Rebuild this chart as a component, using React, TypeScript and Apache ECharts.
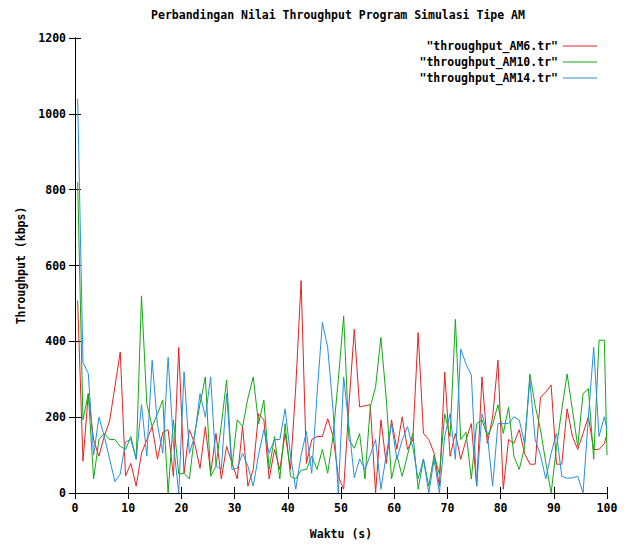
import React, { useEffect, useRef } from "react";
import * as echarts from "echarts";

// sample times (s): 0.5, 1.5, ... 99.5 and a final sample at 100
const times: number[] = [...Array.from({ length: 100 }, (_, i) => i + 0.5), 100];

const seriesNames = ['"throughput_AM6.tr"', '"throughput_AM10.tr"', '"throughput_AM14.tr"'];

const am6 = [
  507, 84, 262, 140, 97, 150, 190, 280, 372, 45,
  78, 18, 105, 140, 175, 89, 160, 167, 44, 384,
  52, 167, 131, 65, 175, 52, 157, 37, 123, 80,
  37, 175, 18, 62, 209, 193, 37, 115, 62, 157,
  62, 280, 560, 78, 141, 149, 149, 196, 150, 44,
  10, 233, 432, 227, 230, 233, 0, 193, 78, 193,
  115, 201, 115, 140, 423, 157, 141, 105, 18, 319,
  97, 157, 89, 140, 183, 18, 306, 131, 200, 350,
  10, 141, 131, 167, 105, 76, 76, 253, 266, 285,
  76, 76, 222, 149, 115, 157, 201, 115, 115, 130,
  157,
];

const am10 = [
  820, 193, 262, 37, 141, 157, 141, 141, 123, 115,
  149, 89, 520, 235, 175, 209, 245, 0, 193, 50,
  52, 37, 157, 235, 306, 44, 71, 180, 298, 70,
  193, 175, 250, 306, 183, 245, 62, 149, 37, 183,
  44, 37, 60, 62, 97, 62, 115, 52, 150, 300,
  467, 141, 118, 157, 37, 227, 280, 410, 250, 37,
  100, 44, 100, 157, 10, 89, 18, 100, 50, 209,
  149, 458, 141, 160, 37, 183, 193, 150, 180, 233,
  157, 227, 97, 62, 120, 314, 230, 167, 80, 0,
  120, 220, 314, 220, 123, 262, 275, 89, 403, 403,
  100,
];

const am14 = [
  1040, 345, 315, 100, 200, 150, 90, 30, 50, 135,
  141, 89, 233, 97, 350, 180, 105, 358, 131, 0,
  320, 105, 150, 262, 200, 306, 71, 62, 262, 62,
  65, 105, 71, 18, 100, 167, 105, 141, 141, 222,
  100, 10, 100, 162, 52, 260, 450, 384, 220, 0,
  306, 175, 40, 90, 62, 100, 141, 10, 100, 183,
  89, 140, 175, 120, 37, 90, 0, 89, 0, 150,
  209, 89, 380, 340, 311, 18, 209, 157, 18, 183,
  183, 183, 201, 193, 131, 298, 141, 100, 37, 105,
  157, 44, 39, 40, 44, 0, 200, 384, 149, 201,
  170,
];

const colors = ["#e02424", "#14a814", "#2a8ee0"];

const FONT = "DejaVu Sans Mono";
const txt = { fontFamily: FONT, fontWeight: "bold" as const, fontSize: 11.5, color: "#000" };

export default function App() {
  const ref = useRef<HTMLDivElement>(null);
  useEffect(() => {
    if (!ref.current) return;
    const chart = echarts.init(ref.current, null, { renderer: "svg" });
    const frameLine = { show: true, lineStyle: { color: "#000", width: 1 } };
    const tick = { show: true, inside: true, length: 6, lineStyle: { color: "#000", width: 1 } };
    const valuesList = [am6, am10, am14];
    chart.setOption({
      animation: false,
      backgroundColor: "#fff",
      title: {
        text: "Perbandingan Nilai Throughput Program Simulasi Tipe AM",
        left: 338,
        textAlign: "center",
        top: 9,
        padding: 0,
        textStyle: { ...txt },
      },
      legend: seriesNames.map((n, i) => ({
        data: [n],
        right: 31,
        top: 40 + i * 16,
        padding: 0,
        orient: "horizontal",
        align: "right",
        icon: "rect",
        itemWidth: 34,
        itemHeight: 1.2,
        selectedMode: false,
        textStyle: { ...txt },
      })),
      grid: { left: 75, right: 21, top: 38, bottom: 47, containLabel: false },
      xAxis: [
        {
          type: "value",
          min: 0,
          max: 100,
          interval: 10,
          position: "bottom",
          axisLine: frameLine,
          axisTick: tick,
          splitLine: { show: false },
          axisLabel: { ...txt, margin: 9, formatter: (v: number) => String(v) },
          name: "Waktu (s)",
          nameLocation: "middle",
          nameGap: 35,
          nameTextStyle: { ...txt },
        },
        {
          type: "value",
          min: 0,
          max: 100,
          interval: 10,
          position: "top",
          axisLine: frameLine,
          axisTick: tick,
          splitLine: { show: false },
          axisLabel: { show: false },
        },
      ],
      yAxis: [
        {
          type: "value",
          min: 0,
          max: 1200,
          interval: 200,
          position: "left",
          axisLine: frameLine,
          axisTick: tick,
          splitLine: { show: false },
          axisLabel: { ...txt, margin: 9, formatter: (v: number) => String(v) },
          name: "Throughput (kbps)",
          nameLocation: "middle",
          nameGap: 48,
          nameRotate: 90,
          nameTextStyle: { ...txt },
        },
        {
          type: "value",
          min: 0,
          max: 1200,
          interval: 200,
          position: "right",
          axisLine: frameLine,
          axisTick: tick,
          splitLine: { show: false },
          axisLabel: { show: false },
        },
      ],
      series: seriesNames.map((n, i) => ({
        name: n,
        type: "line",
        xAxisIndex: 0,
        yAxisIndex: 0,
        showSymbol: false,
        symbol: "none",
        color: colors[i],
        lineStyle: { color: colors[i], width: 1 },
        data: times.map((t, k) => [t, valuesList[i][k]]),
      })),
    });
    return () => chart.dispose();
  }, []);
  return (
    <div
      ref={ref}
      style={{ position: "fixed", left: 0, top: 0, width: 628, height: 545, background: "#fff" }}
    />
  );
}
